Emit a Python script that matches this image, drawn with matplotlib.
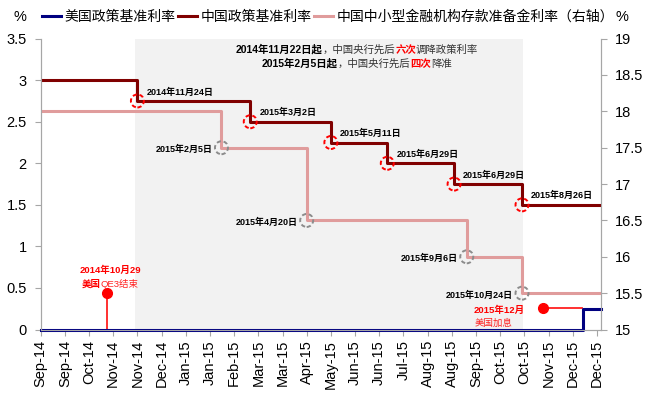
import matplotlib
matplotlib.use("Agg")
import matplotlib.pyplot as plt
import matplotlib.dates as mdates
import matplotlib.transforms as mtransforms
from matplotlib.patches import Circle
from matplotlib.lines import Line2D
import numpy as np
import pandas as pd

plt.rcParams["font.family"] = ["Liberation Sans", "Noto Sans CJK SC"]

# ── Data ──────────────────────────────────────────────────────────────────────
US_DATES = ["2014-09-01", "2015-12-16", "2016-01-01"]
US_RATE = [0.0, 0.25, 0.25]

CN_DATES = ["2014-09-01", "2014-11-24", "2015-03-02", "2015-05-11",
            "2015-06-29", "2015-08-26", "2015-10-24", "2016-01-01"]
CN_RATE = [3.0, 2.75, 2.5, 2.25, 2.0, 1.75, 1.5, 1.5]
CN_LABELS = ["2014年11月24日", "2015年3月2日", "2015年5月11日",
             "2015年6月29日", "2015年6月29日", "2015年8月26日"]

RRR_DATES = ["2014-09-01", "2015-02-05", "2015-04-20", "2015-09-06",
             "2015-10-24", "2016-01-01"]
RRR_RATE = [18.0, 17.5, 16.5, 16.0, 15.5, 15.5]
RRR_LABELS = ["2015年2月5日", "2015年4月20日", "2015年9月6日", "2015年10月24日"]

SHADE = ("2014-11-22", "2015-10-25")
QE3_END = ("2014-10-29", 0.44)
US_HIKE_MARK = ("2015-11-11", "2015-12-15", 0.26)

NAVY = "#000080"
DARK_RED = "#800000"
PINK = "#E09C9C"
GRID_GRAY = "#A6A6A6"

to_num = lambda s: mdates.date2num(pd.Timestamp(s))

# ── Figure ────────────────────────────────────────────────────────────────────
fig = plt.figure(figsize=(6.54, 3.98), dpi=100)
fig.subplots_adjust(left=0.0622, right=0.9197, bottom=0.172, top=0.903)
ax = fig.add_subplot(111)
ax2 = ax.twinx()

ax.axvspan(to_num(SHADE[0]), to_num(SHADE[1]), color="#F2F2F2", zorder=0, lw=0)

us_x = [to_num(d) for d in US_DATES]
cn_x = [to_num(d) for d in CN_DATES]
rrr_x = [to_num(d) for d in RRR_DATES]

ax.step(cn_x, CN_RATE, where="post", color=DARK_RED, lw=2.2, zorder=3)
ax2.step(rrr_x, RRR_RATE, where="post", color=PINK, lw=2.2, zorder=2)

# QE3 marker
qx = to_num(QE3_END[0])
ax.plot([qx, qx], [0, QE3_END[1]], color="#FF2020", lw=1.3, zorder=3)
ax.plot([qx], [QE3_END[1]], "o", color="#FF0000", ms=7, zorder=4)

# US hike marker
hx0, hx1, hy = to_num(US_HIKE_MARK[0]), to_num(US_HIKE_MARK[1]), US_HIKE_MARK[2]
ax.plot([hx0, hx1], [hy, hy], color="#FF2020", lw=1.3, zorder=3)
ax.plot([hx0], [hy], "o", color="#FF0000", ms=7, zorder=4)

ax.step(us_x, US_RATE, where="post", color=NAVY, lw=2.2, zorder=5, clip_on=False)


def ring(axis, x, y, color):
    tr = fig.dpi_scale_trans + mtransforms.ScaledTranslation(x, y, axis.transData)
    axis.add_patch(Circle((0, 0), 0.065, transform=tr, fill=False, ec=color,
                          lw=1.4, ls=(0, (2.2, 1.4)), zorder=6, clip_on=False))


for x, y, lab in zip(cn_x[1:-1], CN_RATE[1:-1], CN_LABELS):
    ring(ax, x, y, "#FF0000")
    ax.annotate(lab, xy=(x, y), xytext=(9, 9), textcoords="offset pixels",
                ha="left", va="center", fontsize=6.5, fontweight="bold",
                color="black", zorder=7)

for x, y, lab in zip(rrr_x[1:-1], RRR_RATE[1:-1], RRR_LABELS):
    ring(ax2, x, y, "#8C8C8C")
    ax2.annotate(lab, xy=(x, y), xytext=(-9, -2), textcoords="offset pixels",
                 ha="right", va="center", fontsize=6.5, fontweight="bold",
                 color="black", zorder=7)

# ── Axes styling ──────────────────────────────────────────────────────────────
ax.set_xlim(to_num("2014-09-01"), to_num("2016-01-01"))
ax.set_ylim(0, 3.5)
ax2.set_ylim(15, 19)
ax.set_yticks(np.arange(0, 3.51, 0.5))
ax2.set_yticks(np.arange(15, 19.01, 0.5))
ax.yaxis.set_major_formatter(plt.FuncFormatter(lambda v, _: f"{v:g}"))
ax2.yaxis.set_major_formatter(plt.FuncFormatter(lambda v, _: f"{v:g}"))

ticks = pd.date_range("2014-09-01", periods=24, freq="21D")
ax.set_xticks(mdates.date2num(ticks))
ax.set_xticklabels([d.strftime("%b-%y") for d in ticks], rotation=90)

for a in (ax, ax2):
    a.spines["top"].set_visible(False)
    for s in ("left", "right", "bottom"):
        a.spines[s].set_color(GRID_GRAY)
    a.tick_params(axis="both", direction="out", length=4, color=GRID_GRAY,
                  labelsize=10.5, labelcolor="black")
ax.tick_params(axis="y", pad=6)
ax2.tick_params(axis="y", pad=6)


# ── Mixed-style text lines (pixel positions, laid out piece by piece) ────────
renderer = fig.canvas.get_renderer()


def rich_line(x, y, pieces, size, align="center"):
    """x, y in pixels from top-left; pieces = (text, colour, weight)."""
    texts = []
    for txt, color, weight in pieces:
        texts.append(fig.text(0, 1 - y / 398, txt, color=color,
                              fontweight=weight, fontsize=size,
                              ha="left", va="baseline"))
    widths = [t.get_window_extent(renderer).width for t in texts]
    total = sum(widths)
    cur = x - total / 2 if align == "center" else x
    for t, w in zip(texts, widths):
        t.set_x(cur / 654)
        cur += w


rich_line(357, 53, [
    ("2014年11月22日起", "black", "bold"),
    ("，中国央行先后", "#333333", "normal"),
    ("六次", "#FF0000", "bold"),
    ("调降政策利率", "#333333", "normal"),
], 7.5)
rich_line(357, 67, [
    ("2015年2月5日起", "black", "bold"),
    ("，中国央行先后", "#333333", "normal"),
    ("四次", "#FF0000", "bold"),
    ("降准", "#333333", "normal"),
], 7.5)

rich_line(110, 273, [("2014年10月29", "#FF0000", "bold")], 6.8)
rich_line(110, 287, [("美国", "#FF0000", "bold"),
                     ("QE3结束", "#FF2020", "normal")], 6.8)
rich_line(474, 313, [("2015年12月", "#FF0000", "bold")], 6.8, align="left")
rich_line(475, 326, [("美国加息", "#FF2020", "normal")], 6.8, align="left")

# Legend and unit labels
handles = [Line2D([], [], color=NAVY, lw=2.2),
           Line2D([], [], color=DARK_RED, lw=2.2),
           Line2D([], [], color=PINK, lw=2.2)]
labels = ["美国政策基准利率", "中国政策基准利率", "中国中小型金融机构存款准备金利率（右轴）"]
fig.legend(handles, labels, ncol=3, loc="center left",
           bbox_to_anchor=(42 / 654, 1 - 17 / 398), frameon=False,
           fontsize=10, handlelength=1.4, handletextpad=0.2,
           columnspacing=0.2, borderaxespad=0, borderpad=0)
fig.text(20 / 654, 1 - 17 / 398, "%", fontsize=10.5, ha="center", va="center")
fig.text(622 / 654, 1 - 17 / 398, "%", fontsize=10.5, ha="center", va="center")

fig.savefig("out.png", dpi=100)
